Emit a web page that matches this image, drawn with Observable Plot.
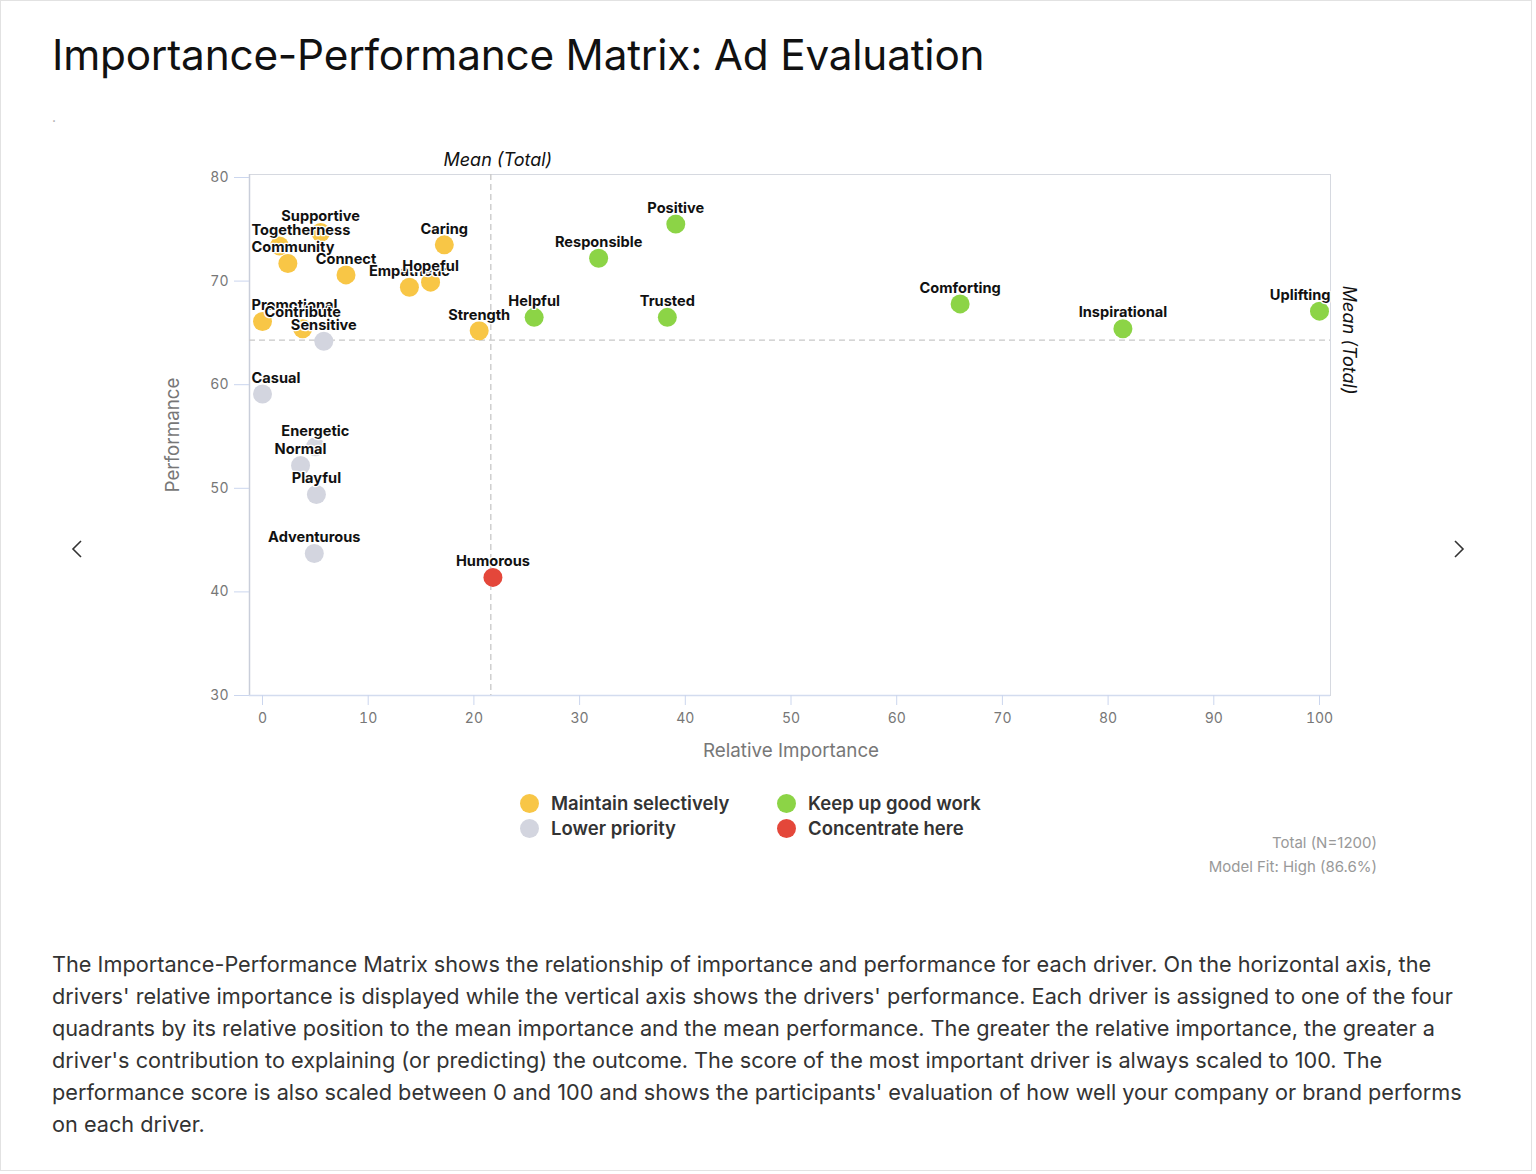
<!DOCTYPE html>
<html>
<head>
<meta charset="utf-8">
<script src="https://cdn.jsdelivr.net/npm/d3@7"></script>
<script src="https://cdn.jsdelivr.net/npm/@observablehq/plot@0.6"></script>
<style>
  html, body { margin: 0; padding: 0; background: #fff; }
  body { font-family: Inter, "Noto Sans", sans-serif; width: 1536px; height: 1174px; position: relative; overflow: hidden; }
  #card { position: absolute; left: 0; top: 0; width: 1532px; height: 1171px; border: 1px solid #e2e2e2; box-sizing: border-box; }
  #title { position: absolute; left: 52px; top: 29px; font-size: 42.3px; font-weight: 400; color: #111; white-space: nowrap; letter-spacing: -0.2px; }
  #subtitle { position: absolute; left: 52px; top: 108px; font-size: 14px; color: #aaa; }
  #chart { position: absolute; left: 150px; top: 140px; }
  #legend { position: absolute; left: 520px; top: 792px; font-size: 18.5px; font-weight: 600; color: #333; }
  .li { position: absolute; white-space: nowrap; display: flex; align-items: center; }
  .sw { width: 19px; height: 19px; border-radius: 50%; display: inline-block; margin-right: 12px; }
  #notes { position: absolute; right: 159px; top: 831px; text-align: right; font-size: 15px; color: #999; line-height: 24px; }
  #desc { position: absolute; left: 52px; top: 948px; font-size: 21.7px; line-height: 32px; color: #333; white-space: nowrap; }
  .arrow { position: absolute; top: 538px; }
</style>
</head>
<body>
<div id="card"></div>
<div id="title">Importance-Performance Matrix: Ad Evaluation</div>
<div id="subtitle">.</div>
<svg class="arrow" style="left:70px" width="14" height="22" viewBox="0 0 14 22"><polyline points="11,3 3,11 11,19" fill="none" stroke="#333" stroke-width="1.6"/></svg>
<svg class="arrow" style="left:1452px" width="14" height="22" viewBox="0 0 14 22"><polyline points="3,3 11,11 3,19" fill="none" stroke="#333" stroke-width="1.6"/></svg>
<div id="chart"></div>
<div id="legend"></div>
<div id="notes">Total (N=1200)<br>Model Fit: High (86.6%)</div>
<div id="desc">The Importance-Performance Matrix shows the relationship of importance and performance for each driver. On the horizontal axis, the<br>drivers' relative importance is displayed while the vertical axis shows the drivers' performance. Each driver is assigned to one of the four<br>quadrants by its relative position to the mean importance and the mean performance. The greater the relative importance, the greater a<br>driver's contribution to explaining (or predicting) the outcome. The score of the most important driver is always scaled to 100. The<br>performance score is also scaled between 0 and 100 and shows the participants' evaluation of how well your company or brand performs<br>on each driver.</div>
<script>
const drivers = ["Positive","Responsible","Caring","Supportive","Togetherness","Community","Connect","Empathetic","Hopeful","Promotional","Contribute","Sensitive","Strength","Helpful","Trusted","Comforting","Inspirational","Uplifting","Casual","Energetic","Normal","Playful","Adventurous","Humorous"];
const importance = [39.1, 31.8, 17.2, 5.5, 1.6, 2.4, 7.9, 13.9, 15.9, 0.0, 3.8, 5.8, 20.5, 25.7, 38.3, 66.0, 81.4, 100, 0.0, 5.0, 3.6, 5.1, 4.9, 21.8];
const performance = [75.5, 72.2, 73.5, 74.7, 73.4, 71.7, 70.6, 69.4, 69.9, 66.1, 65.4, 64.2, 65.2, 66.5, 66.5, 67.8, 65.4, 67.1, 59.1, 54.0, 52.2, 49.4, 43.7, 41.4];
const quadrant = ["Keep up good work","Keep up good work","Maintain selectively","Maintain selectively","Maintain selectively","Maintain selectively","Maintain selectively","Maintain selectively","Maintain selectively","Maintain selectively","Maintain selectively","Lower priority","Maintain selectively","Keep up good work","Keep up good work","Keep up good work","Keep up good work","Keep up good work","Lower priority","Lower priority","Lower priority","Lower priority","Lower priority","Concentrate here"];
const meanImportance = 21.6;
const meanPerformance = 64.3;
const legendOrder = ["Maintain selectively","Keep up good work","Lower priority","Concentrate here"];
const legendColors = ["#F8C646","#8CD446","#D3D5DF","#E4473A"];
const xTicks = [0,10,20,30,40,50,60,70,80,90,100];
const yTicks = [30,40,50,60,70,80];

const xDomain = [-1.23, 101.04];
const yDomain = [30, 80.29];
const data = drivers.map((d, i) => ({name: d, x: importance[i], y: performance[i], q: quadrant[i]}));

const base = {
  width: 1240,
  height: 640,
  marginLeft: 99,
  marginRight: 60,
  marginTop: 34,
  marginBottom: 85,
  style: {fontFamily: "Inter, sans-serif", background: "transparent", overflow: "visible"},
  x: {domain: xDomain},
  y: {domain: yDomain},
  color: {domain: legendOrder, range: legendColors}
};

// first pass: obtain the x scale to keep labels inside the frame
const probe = Plot.plot({...base, marks: [Plot.dot(data, {x: "x", y: "y"})]});
const xs = probe.scale("x");
const labelSize = 14.6;
const ctx = document.createElement("canvas").getContext("2d");
ctx.font = `700 ${labelSize}px Inter`;
const leftPx = xs.apply(xDomain[0]), rightPx = xs.apply(xDomain[1]);
data.forEach(d => {
  const w = ctx.measureText(d.name).width;
  const px = xs.apply(d.x);
  d.anchor = (px - w / 2 < leftPx + 2) ? "start" : (px + w / 2 > rightPx) ? "end" : "middle";
});
const labelStyle = {y: "y", text: "name", dy: -16, fontSize: labelSize, fontWeight: 700, fill: "#111", stroke: "white", strokeWidth: 2.5};

const chart = Plot.plot({
  ...base,
  marks: [
    Plot.frame({stroke: "#d6d9e0"}),
    Plot.ruleX([xDomain[0]], {stroke: "#c9ceda", strokeWidth: 1.5}),
    Plot.ruleY([yDomain[0]], {stroke: "#d3dcef", strokeWidth: 1.5}),
    Plot.ruleX([meanImportance], {stroke: "#c8c8c8", strokeDasharray: "6,4", strokeWidth: 1.3}),
    Plot.ruleY([meanPerformance], {stroke: "#c8c8c8", strokeDasharray: "6,4", strokeWidth: 1.3}),
    Plot.axisY(yTicks, {tickSize: 15, tickPadding: 6, stroke: "#cbd6ee", fill: "#777", fontSize: 14, label: null}),
    Plot.axisX(xTicks, {tickSize: 10, tickPadding: 8, stroke: "#cbd6ee", fill: "#777", fontSize: 14, label: null}),
    Plot.text(["Performance"], {frameAnchor: "left", dx: -77, rotate: -90, textAnchor: "middle", text: d => d, fontSize: 18.8, fill: "#777"}),
    Plot.text(["Relative Importance"], {x: 50, frameAnchor: "bottom", dy: 61, text: d => d, fontSize: 18.8, fill: "#777"}),
    Plot.text([meanImportance], {x: d => d, frameAnchor: "top", dy: -21, dx: 7, text: () => "Mean (Total)", fontSize: 18, fontStyle: "italic", fill: "#111"}),
    Plot.text([meanPerformance], {y: d => d, frameAnchor: "right", dx: 18, rotate: 90, textAnchor: "middle", text: () => "Mean (Total)", fontSize: 18, fontStyle: "italic", fill: "#111"}),
    Plot.dot(data, {x: "x", y: "y", fill: "q", r: 9.5}),
    Plot.text(data.filter(d => d.anchor === "start"), {...labelStyle, x: () => xDomain[0], textAnchor: "start", dx: 2}),
    Plot.text(data.filter(d => d.anchor === "middle"), {...labelStyle, x: "x"}),
    Plot.text(data.filter(d => d.anchor === "end"), {...labelStyle, x: () => xDomain[1], textAnchor: "end", dx: 0})
  ]
});
document.getElementById("chart").appendChild(chart);

const legend = document.getElementById("legend");
legendOrder.forEach((k, i) => {
  const el = document.createElement("div");
  el.className = "li";
  el.style.left = (i % 2 === 0 ? 0 : 257) + "px";
  el.style.top = (Math.floor(i / 2) * 25) + "px";
  el.innerHTML = `<span class="sw" style="background:${legendColors[i]}"></span>${k}`;
  legend.appendChild(el);
});
</script>
</body>
</html>
